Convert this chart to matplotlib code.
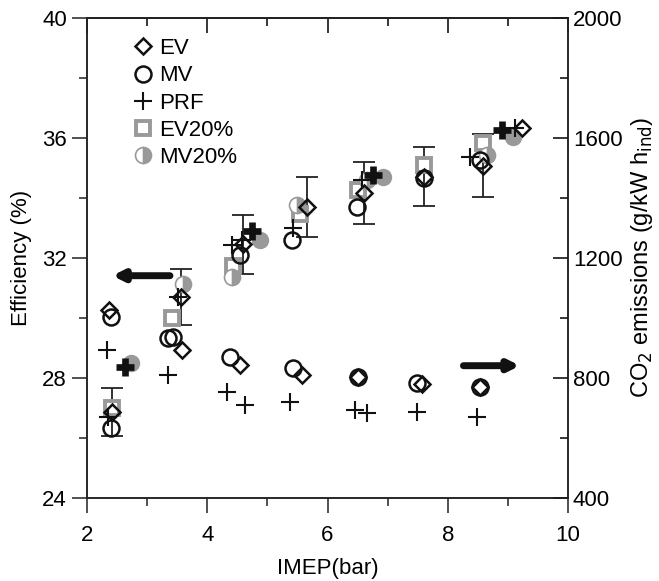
import matplotlib
matplotlib.use("Agg")
import matplotlib.pyplot as plt
from matplotlib.ticker import MultipleLocator

plt.rcParams['font.family'] = ['Liberation Sans', 'DejaVu Sans']

# ---- Efficiency data (left axis) ----
ev_x = [2.42, 3.56, 4.59, 5.66, 6.60, 7.60, 8.59, 9.23]
ev_y = [26.87, 30.69, 32.45, 33.69, 34.17, 34.70, 35.06, 36.31]
ev_err = [0.80, 0.92, 0.98, 1.00, 1.03, 0.98, 1.05, 0.0]

mv_x = [2.40, 4.55, 5.41, 6.49, 7.60, 8.54]
mv_y = [26.32, 32.09, 32.59, 33.70, 34.65, 35.26]

prf_x = [2.35, 3.51, 4.41, 4.57, 5.43, 6.57, 8.37, 9.12]
prf_y = [26.69, 30.69, 32.42, 32.59, 32.98, 34.59, 35.37, 36.31]

ev20_x = [2.41, 3.42, 4.43, 5.54, 6.51, 7.60, 8.59]
ev20_y = [26.99, 29.98, 31.72, 33.46, 34.26, 35.09, 35.81]

mv20_x = [3.60, 4.41, 5.49, 6.65, 8.65]
mv20_y = [31.12, 31.37, 33.76, 34.59, 35.42]

prf_bold_x = [2.63, 4.74, 6.76, 8.90]
prf_bold_y = [28.37, 32.90, 34.76, 36.26]

grey_x = [2.74, 4.88, 6.93, 9.09]
grey_y = [28.49, 32.59, 34.68, 36.03]

# ---- CO2 data (right axis) ----
co2_ev_x = [2.37, 3.58, 4.55, 5.57, 6.51, 7.57, 8.54]
co2_ev_y = [1026, 892, 842, 809, 801, 779, 770]

co2_mv_x = [2.40, 3.35, 3.43, 4.38, 5.43, 6.51, 7.48, 8.54]
co2_mv_y = [1003, 931, 936, 870, 831, 801, 781, 770]

co2_prf_x = [2.33, 3.35, 4.33, 4.63, 5.38, 6.46, 6.65, 7.49, 8.48]
co2_prf_y = [892, 809, 753, 709, 720, 693, 681, 687, 670]

x_ticks = [2, 4, 6, 8, 10]
left_ticks = [24, 28, 32, 36, 40]
right_ticks = [400, 800, 1200, 1600, 2000]

GREY = '#999999'
FS = 16

fig = plt.figure(figsize=(6.59, 5.81), dpi=100)
ax = fig.add_axes([0.132, 0.1434, 0.730, 0.8261])
ax2 = ax.twinx()

ms = 10.5
lw = 1.8

# efficiency
ax.errorbar(ev_x[:-1], ev_y[:-1], yerr=ev_err[:-1], fmt='none', ecolor='#222222',
            elinewidth=1.3, capsize=8, capthick=1.3, zorder=2)
ax.plot(ev20_x, ev20_y, 's', ms=ms, mfc='white', mec=GREY, mew=2.8, ls='none', zorder=3, label='EV20%')
ax.plot(mv20_x, mv20_y, 'o', ms=ms + 1, fillstyle='right', mfc=GREY, mfcalt='white', mec=GREY,
        mew=1.2, ls='none', zorder=3, label='MV20%')
ax.plot(grey_x, grey_y, 'o', ms=ms + 1, mfc=GREY, mec=GREY, ls='none', zorder=3)
ax.plot(ev_x, ev_y, 'D', ms=ms - 2.5, mfc='none', mec='#111111', mew=lw, ls='none', zorder=4, label='EV')
ax.plot(mv_x, mv_y, 'o', ms=ms + 1, mfc='none', mec='#111111', mew=lw, ls='none', zorder=4, label='MV')
ax.plot(prf_x, prf_y, '+', ms=ms + 3, mec='#111111', mew=1.5, ls='none', zorder=4, label='PRF')
ax.plot(prf_bold_x, prf_bold_y, '+', ms=ms + 2, mec='#111111', mew=4.8, ls='none', zorder=4)

# CO2
ax2.plot(co2_ev_x, co2_ev_y, 'D', ms=ms - 2.5, mfc='none', mec='#111111', mew=lw, ls='none', zorder=4)
ax2.plot(co2_mv_x, co2_mv_y, 'o', ms=ms + 1, mfc='none', mec='#111111', mew=lw, ls='none', zorder=4)
ax2.plot(co2_prf_x, co2_prf_y, '+', ms=ms + 3, mec='#111111', mew=1.5, ls='none', zorder=4)

# arrows
ax.annotate('', xy=(2.42, 31.4), xytext=(3.38, 31.4),
            arrowprops=dict(arrowstyle='-|>,head_length=0.6,head_width=0.3', lw=5, color='#111111',
                            shrinkA=0, shrinkB=0))
ax.annotate('', xy=(9.2, 28.4), xytext=(8.26, 28.4),
            arrowprops=dict(arrowstyle='-|>,head_length=0.6,head_width=0.3', lw=5, color='#111111',
                            shrinkA=0, shrinkB=0))

ax.set_xlim(2, 10)
ax.set_ylim(24, 40)
ax2.set_ylim(400, 2000)
ax.set_xticks(x_ticks)
ax.set_yticks(left_ticks)
ax2.set_yticks(right_ticks)
ax.xaxis.set_minor_locator(MultipleLocator(1))
ax.yaxis.set_minor_locator(MultipleLocator(2))
ax2.yaxis.set_minor_locator(MultipleLocator(200))

ax.tick_params(axis='both', which='major', direction='out', labelsize=FS, length=11, width=1.1,
               color='#222222')
ax.tick_params(axis='x', which='major', pad=8.5)
ax.tick_params(axis='both', which='minor', direction='out', length=6, width=1.1, color='#222222')
ax2.tick_params(axis='y', which='major', direction='in', labelsize=FS, length=11, width=1.1)
ax2.tick_params(axis='y', which='minor', direction='in', length=6, width=1.1)

top = ax.secondary_xaxis('top')
top.set_xticks(x_ticks)
top.xaxis.set_minor_locator(MultipleLocator(1))
top.tick_params(axis='x', which='major', direction='in', length=11, width=1.1, labeltop=False)
top.tick_params(axis='x', which='minor', direction='in', length=6, width=1.1)

for a in (ax, ax2, top):
    for s in a.spines.values():
        s.set_linewidth(1.1)
        s.set_color('#222222')

ax.set_xlabel('IMEP(bar)', fontsize=FS, labelpad=9)
ax.set_ylabel('Efficiency (%)', fontsize=FS, labelpad=7)
ax2.set_ylabel('CO$_2$ emissions (g/kW h$_{\\mathrm{ind}}$)', fontsize=17, labelpad=5)

handles, labels = ax.get_legend_handles_labels()
order = ['EV', 'MV', 'PRF', 'EV20%', 'MV20%']
hd = dict(zip(labels, handles))
ax.legend([hd[k] for k in order], order, loc='upper left', bbox_to_anchor=(0.065, 0.985),
          frameon=False, fontsize=FS, handletextpad=0.25, labelspacing=0.28, handlelength=1.0,
          borderaxespad=0.2)

fig.savefig('out.png', dpi=100)
